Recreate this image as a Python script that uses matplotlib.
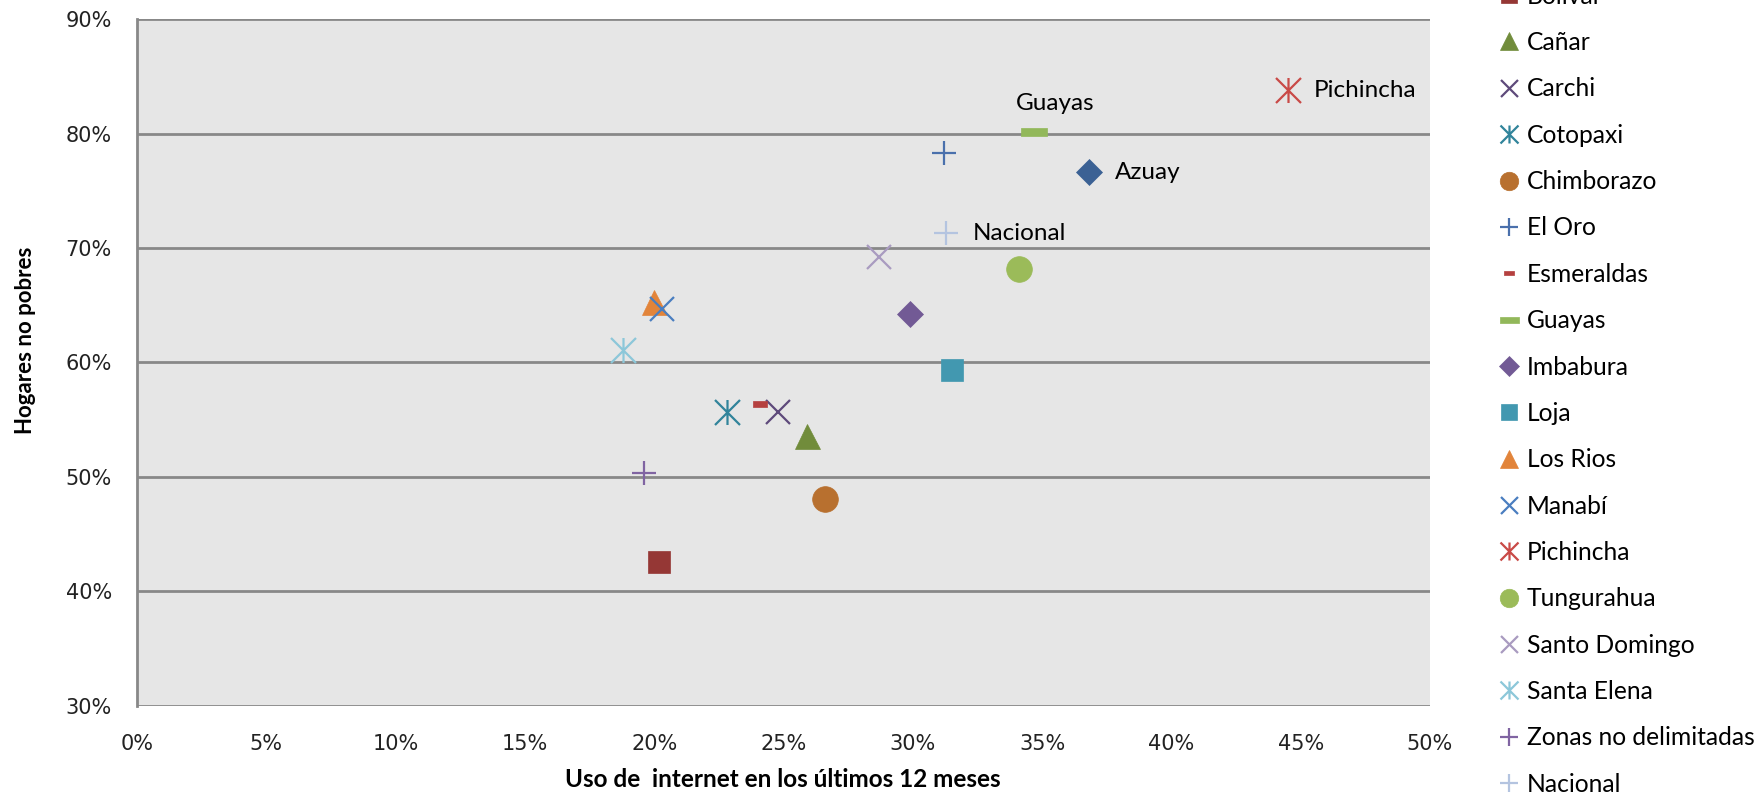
import numpy as np
import matplotlib
matplotlib.use("Agg")
import matplotlib.pyplot as plt
from matplotlib.path import Path
from matplotlib.ticker import FuncFormatter

plt.rcParams['font.family'] = ['Lato', 'DejaVu Sans']

# datos: uso de internet (x) y hogares no pobres (y), en %
provincias = ["Azuay", "Bolívar", "Cañar", "Carchi", "Cotopaxi", "Chimborazo",
              "El Oro", "Esmeraldas", "Guayas", "Imbabura", "Loja", "Los Rios",
              "Manabí", "Pichincha", "Tungurahua", "Santo Domingo", "Santa Elena",
              "Zonas no delimitadas", "Nacional"]
internet = [36.8, 20.2, 25.9, 24.8, 22.8, 26.6, 31.2, 24.1, 34.7, 29.9, 31.5,
            20.0, 20.3, 44.5, 34.1, 28.7, 18.8, 19.6, 31.3]
no_pobres = [76.6, 42.6, 53.6, 55.7, 55.7, 48.1, 78.3, 56.4, 80.1, 64.2, 59.3,
             65.3, 64.7, 83.8, 68.2, 69.2, 61.1, 50.3, 71.3]
etiquetadas = ["Pichincha", "Guayas", "Azuay", "Nacional"]

# marcadores tipo excel
star = Path([(-1, -1), (1, 1), (-1, 1), (1, -1), (0, -1), (0, 1)],
            [Path.MOVETO, Path.LINETO, Path.MOVETO, Path.LINETO, Path.MOVETO, Path.LINETO])
dash_s = Path([(-1, -0.5), (1, -0.5), (1, 0.5), (-1, 0.5), (-1, -0.5)])
dash_l = Path([(-1, -0.27), (1, -0.27), (1, 0.27), (-1, 0.27), (-1, -0.27)])

estilo = {
    "Azuay": ("D", "#3B6194", 13.5, True),
    "Bolívar": ("s", "#953735", 16, True),
    "Cañar": ("^", "#718C3B", 18, True),
    "Carchi": ("x", "#5E4A7B", 17, False),
    "Cotopaxi": (star, "#31849B", 18, False),
    "Chimborazo": ("o", "#B8702F", 18.5, True),
    "El Oro": ("+", "#4A70AC", 17.5, False),
    "Esmeraldas": (dash_s, "#B5403F", 10, True),
    "Guayas": (dash_l, "#92B85A", 19, True),
    "Imbabura": ("D", "#725A95", 13.5, True),
    "Loja": ("s", "#4298B0", 16, True),
    "Los Rios": ("^", "#E2843A", 18, True),
    "Manabí": ("x", "#4A7EC0", 17, False),
    "Pichincha": (star, "#C94A47", 18, False),
    "Tungurahua": ("o", "#9BBB59", 18.5, True),
    "Santo Domingo": ("x", "#A99BC0", 17, False),
    "Santa Elena": (star, "#8CC7D9", 18, False),
    "Zonas no delimitadas": ("+", "#8064A2", 17.5, False),
    "Nacional": ("+", "#B4C4E0", 17.5, False),
}

fig = plt.figure(figsize=(17.63, 7.94), dpi=100)
ax = fig.add_axes([0.0777, 0.111, 0.7334, 0.865])
ax.set_facecolor("#E6E6E6")

handles = []
for p, x, y in zip(provincias, internet, no_pobres):
    m, c, s, filled = estilo[p]
    if filled:
        h, = ax.plot(x, y, linestyle="none", marker=m, markersize=s,
                     markerfacecolor=c, markeredgecolor=c, markeredgewidth=0.5,
                     label=p, zorder=3)
    else:
        h, = ax.plot(x, y, linestyle="none", marker=m, markersize=s,
                     color=c, markeredgewidth=1.6, label=p, zorder=3)
    handles.append(h)

for p, x, y in zip(provincias, internet, no_pobres):
    if p in etiquetadas:
        if p == "Guayas":
            ax.annotate(p, (x, y), xytext=(15, 21), textcoords="offset points",
                        ha="center", va="center", fontsize=17.5)
        else:
            ax.annotate(p, (x, y), xytext=(19, 0), textcoords="offset points",
                        ha="left", va="center", fontsize=17.5)

ax.set_xlim(0, 50)
ax.set_ylim(30, 90)
ax.set_xticks(np.arange(0, 51, 5))
ax.set_yticks(np.arange(30, 91, 10))
fmt = FuncFormatter(lambda v, pos: f"{v:.0f}%")
ax.xaxis.set_major_formatter(fmt)
ax.yaxis.set_major_formatter(fmt)
ax.tick_params(length=0, labelsize=15, colors="#222222")
ax.tick_params(axis="x", pad=20)
ax.tick_params(axis="y", pad=18)
for lab in ax.get_xticklabels() + ax.get_yticklabels():
    lab.set_fontfamily("DejaVu Sans")
ax.grid(axis="y", color="#888888", linewidth=2)
ax.set_axisbelow(True)
for s in ["top", "right", "bottom"]:
    ax.spines[s].set_visible(False)
ax.spines["left"].set_color("#888888")
ax.spines["left"].set_linewidth(2)

fig.text(0.444, 0.018, "Uso de  internet en los últimos 12 meses",
         fontsize=17.5, fontweight="bold", ha="center", va="center")
fig.text(0.0142, 0.572, "Hogares no pobres", fontsize=16, fontweight="bold",
         rotation=90, ha="center", va="center")

fig.legend(handles=handles, loc="upper left", bbox_to_anchor=(0.845, 1.090),
           frameon=False, fontsize=17.7, markerscale=0.72, handlelength=0.8,
           handletextpad=0.3, labelspacing=0.95, borderaxespad=0)

fig.savefig("out.png", dpi=100)
